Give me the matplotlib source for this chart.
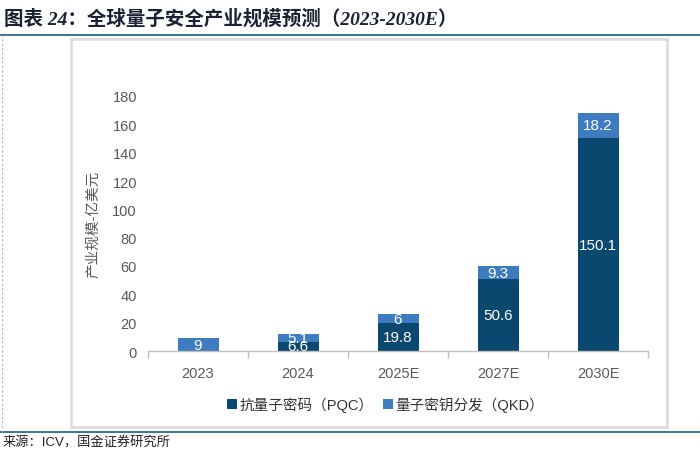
import numpy as np
import matplotlib
matplotlib.use("Agg")
import matplotlib.pyplot as plt
from matplotlib.patches import Rectangle
from matplotlib.lines import Line2D

plt.rcParams["font.family"] = ["Liberation Sans", "Noto Sans CJK SC", "DejaVu Sans"]

# ----------------------------------------------------------------
# data
# ----------------------------------------------------------------
years = ["2023", "2024", "2025E", "2027E", "2030E"]
pqc = [0, 6.6, 19.8, 50.6, 150.1]
qkd = [9, 5.1, 6, 9.3, 18.2]
y_ticks = [0, 20, 40, 60, 80, 100, 120, 140, 160, 180]

C_PQC = "#0B4870"
C_QKD = "#3F7CBF"
GRAY_TXT = "#595959"

W, H = 700, 460
fig = plt.figure(figsize=(W / 100, H / 100), dpi=100)

# page decorations: title, rules, chart frame
fig.text(4 / W, 1 - 19 / H, "图表 24：全球量子安全产业规模预测（2023-2030E）",
         fontsize=14, fontweight="bold", style="italic", color="#1a2233",
         va="center", ha="left",
         family=["Liberation Serif", "Noto Sans CJK SC", "DejaVu Sans"])
fig.add_artist(Line2D([0, 1], [1 - 36 / H] * 2, color="#1F5A85", lw=1.2))
fig.add_artist(Line2D([0, 1], [1 - 433 / H] * 2, color="#1F5A85", lw=1.2))
fig.add_artist(Line2D([1.5 / W] * 2, [1 - 433 / H, 1 - 36 / H], color="#b0b0b0",
                      lw=0.8, ls=(0, (2, 2))))
fig.add_artist(Rectangle((71 / W, 1 - 428 / H), (667 - 71) / W, (428 - 40) / H,
                         fill=False, edgecolor="#D9D9D9", lw=1.8))
fig.text(3 / W, 1 - 443 / H, "来源：ICV，国金证券研究所", fontsize=9.5,
         color="#222222", va="center", ha="left")

# ----------------------------------------------------------------
# bars
# ----------------------------------------------------------------
ax = fig.add_axes([148 / W, 1 - 352 / H, 500 / W, 255 / H])
x = np.arange(len(years))
bw = 0.41
ax.bar(x, pqc, bw, color=C_PQC, label="抗量子密码（PQC）", zorder=2)
ax.bar(x, qkd, bw, bottom=pqc, color=C_QKD, label="量子密钥分发（QKD）", zorder=2)

for i in range(len(years)):
    if pqc[i] > 0:
        ax.text(x[i], pqc[i] / 2, f"{pqc[i]:g}", ha="center", va="center",
                color="white", fontsize=11)
    ax.text(x[i], pqc[i] + qkd[i] / 2, f"{qkd[i]:g}", ha="center", va="center",
            color="white", fontsize=11)

ax.set_xlim(-0.5, len(years) - 0.5)
ax.set_ylim(0, 180)
ax.set_yticks(y_ticks)
ax.set_xticks(x)
ax.set_xticklabels(years)
ax.set_xticks(np.arange(-0.5, len(years)), minor=True)
ax.tick_params(axis="x", which="major", length=0, pad=11, labelsize=10.5,
               labelcolor=GRAY_TXT)
ax.tick_params(axis="x", which="minor", length=5, color="#BFBFBF", width=1)
ax.tick_params(axis="y", length=0, pad=8, labelsize=10.5, labelcolor=GRAY_TXT)
for s in ["top", "right", "left"]:
    ax.spines[s].set_visible(False)
ax.spines["bottom"].set_color("#BFBFBF")
ax.spines["bottom"].set_linewidth(1)
ax.set_ylabel("产业规模-亿美元", fontsize=10.5, color=GRAY_TXT, labelpad=6)
ax.yaxis.set_label_coords(-0.095, 0.5)

ax.legend(loc="center", bbox_to_anchor=(0.475, -0.21), ncol=2, frameon=False,
          fontsize=10.5, handlelength=0.7, handleheight=0.7, handletextpad=0.2,
          columnspacing=0.6, labelcolor="#333333")

fig.savefig("out.png", dpi=100)
